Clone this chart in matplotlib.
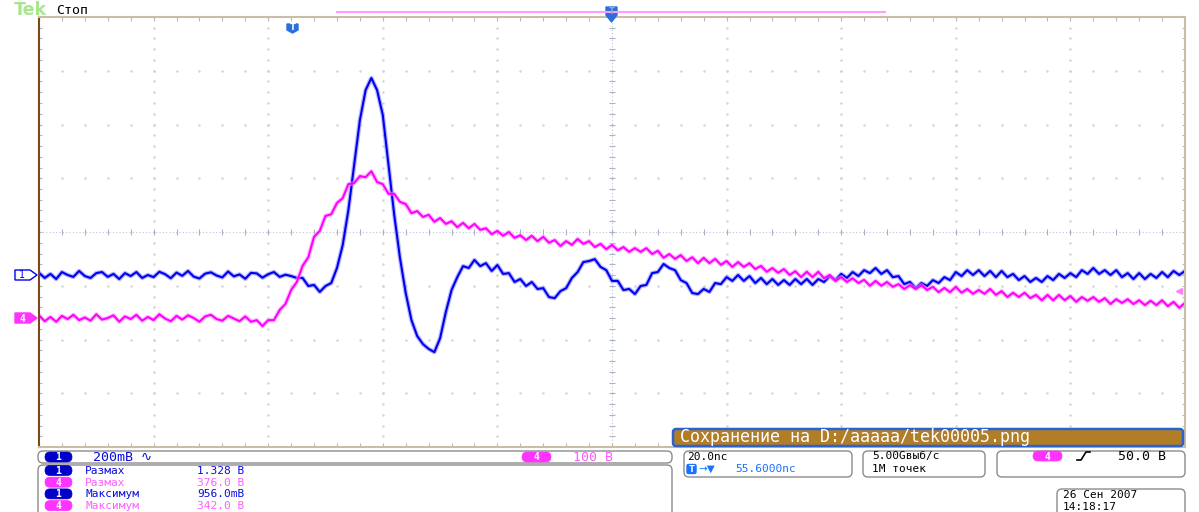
import numpy as np
import matplotlib
matplotlib.use('Agg')
import matplotlib.pyplot as plt
from matplotlib.patches import FancyBboxPatch, Polygon

# ---------------------------------------------------------------------------
# Acquisition: 20 ns/div, one stored point per ns
# ---------------------------------------------------------------------------
TIME_NS = np.arange(0, 201, 1.0)

# channel 1 (current probe), mV relative to the channel marker
CH1_MV = [
    8, -11, 4, -15, 11, 0, -7, 15, -4, -11, 7, 11, -7, 4, -15, 7, -4, 11, -11, 0,
    -8, 12, 3, -12, 9, -3, 15, -6, -13, 5, 10, -2, -9, 13, -5, 2, -14, 8, 6, -10,
    3, 11, -7, 1, -4,
    -11, -11, -41, -37, -63, -41, -30, 26, 111, 242,
    409, 576, 688, 733, 688, 595, 409, 223, 63, -67,
    -168, -227, -257, -275, -287, -235, -138, -56, -8, 33,
    26, 56, 33, 44, 15, 37, 4, 7, -26, -15,
    -41, -26, -52, -49, -82, -86, -60, -49, -11, 11,
    48, 52, 59, 30, 18, -22, -22, -56, -52, -71,
    -41, -37, 7, 11, 41, 26, 18, -19, -30, -67,
    -71, -52, -63, -30, -34, -8, -22, 0, -22, -4,
    -30, -11, -34, -15, -37, -19, -37, -15, -34, -15,
    -37, -15, -26, -4, -19, 4, -11, 11, -4, 18,
    7, 26, 4, 18, -8, -4, -34, -26, -49, -30,
    -41, -19, -30, -8, -19, 11, -4, 18, 0, 18,
    -4, 15, -8, 15, -8, 4, -19, -4, -26, -11,
    -26, -4, -19, 4, -11, 7, -8, 18, 4, 26,
    4, 18, 0, 18, -8, 7, -15, 7, -15, 4,
    -11, 11, -8, 15, 0, 15,
]

# channel 4 (voltage probe), V relative to the channel marker
CH4_V = [
    5, -6, 2, -7, 4, -2, 6, -4, 1, -5, 7, -3, 0, 5, -7, 3, -2, 6, -5, 2,
    -4, 7, -1, -6, 4, -3, 5, 0, -7, 3, 6, -2, -5, 4, -1, -6, 3,
    -7, -4, -15, -4, -4, 15, 26, 52, 67, 97,
    113, 151, 162, 190, 193, 214, 223, 249, 251, 264,
    262, 273, 253, 249, 231, 231, 216, 212, 195, 199,
    188, 192, 179, 186, 175, 180, 169, 177, 167, 175,
    164, 167, 156, 162, 153, 160, 149, 154, 145, 153,
    143, 151, 140, 145, 134, 143, 136, 147, 138, 143,
    132, 138, 128, 136, 126, 132, 123, 130, 123, 130,
    119, 125, 112, 119, 110, 117, 106, 113, 102, 112,
    102, 110, 99, 106, 95, 104, 95, 102, 91, 97,
    86, 93, 84, 91, 80, 87, 76, 86, 76, 86,
    74, 80, 69, 76, 67, 74, 65, 71, 60, 69,
    60, 67, 58, 63, 54, 61, 54, 61, 52, 58,
    48, 56, 48, 58, 47, 54, 45, 52, 45, 54,
    43, 50, 39, 47, 39, 47, 37, 43, 33, 43,
    33, 43, 33, 41, 30, 39, 32, 39, 30, 37,
    26, 35, 28, 35, 26, 33, 24, 32, 24, 33,
    22, 30, 19, 28,
]

CH1_SCALE_MV = 200.0     # mV/div
CH4_SCALE_V = 100.0      # V/div
CH1_POS_DIV = -0.80
CH4_POS_DIV = -1.60
TRIG_LEVEL_V = 50.0

MEAS_CH = ["1", "4", "1", "4"]
MEAS_NAMES = ["Размах", "Размах", "Максимум", "Максимум"]
MEAS_VALUES = ["1.328 В", "376.0 В", "956.0mВ", "342.0 В"]

BLUE = '#0000f0'
MAGENTA = '#ff00ff'
TXT_BLUE = '#0a0ae0'
TXT_PINK = '#ff5cff'
MONO = ['DejaVu Sans Mono', 'DejaVu Sans']
FS = 9.5      # single-line readouts
FS2 = 8       # stacked readouts

W, H = 1199, 512
L, R, T, B = 39, 1185, 17, 447

fig = plt.figure(figsize=(W / 100, H / 100), dpi=100)
fig.patch.set_facecolor('white')

# --- graticule -------------------------------------------------------------
ax = fig.add_axes([L / W, 1 - B / H, (R - L) / W, (B - T) / H])
ax.set_xlim(0, 200)
ax.set_ylim(-4, 4)
ax.set_xticks([])
ax.set_yticks([])
for side in ('top', 'bottom', 'right'):
    ax.spines[side].set_color('#cbbca8')
    ax.spines[side].set_linewidth(1.5)
ax.spines['left'].set_color('#7b4a1c')
ax.spines['left'].set_linewidth(1.5)

grid_c = '#d2d2d2'
for xd in range(1, 10):
    if xd == 5:
        continue
    ax.plot([xd * 20] * 41, np.linspace(-4, 4, 41), ls='none', marker='s',
            ms=0.7, color=grid_c)
for yd in (-3, -2, -1, 1, 2, 3):
    ax.plot(np.linspace(0, 200, 51), [yd] * 51, ls='none', marker='s',
            ms=0.7, color=grid_c)

ax.axvline(100, color='#bcc4da', lw=0.8, ls=(0, (1, 2)))
ax.axhline(0, color='#bcc4da', lw=0.8, ls=(0, (1, 2)))
xs = np.linspace(0, 200, 51)
ys = np.linspace(-4, 4, 41)
ax.vlines(xs, -0.06, 0.06, color='#aab2ca', lw=0.8)
ax.hlines(ys, 99.4, 100.6, color='#aab2ca', lw=0.8)
ax.vlines(xs, 3.93, 4, color='#b8b8b8', lw=0.8)
ax.vlines(xs, -4, -3.93, color='#b8b8b8', lw=0.8)
ax.hlines(ys, 0, 0.6, color='#b8b8b8', lw=0.8)
ax.hlines(ys, 199.4, 200, color='#b8b8b8', lw=0.8)

# --- traces ------------------------------------------------------------------
ch1 = CH1_POS_DIV + np.array(CH1_MV) / CH1_SCALE_MV
ch4 = CH4_POS_DIV + np.array(CH4_V) / CH4_SCALE_V
ax.plot(TIME_NS, ch1, color='#7a7aff', lw=3.2, alpha=0.55)
ax.plot(TIME_NS, ch1, color=BLUE, lw=1.5)
ax.plot(TIME_NS, ch4, color='#ff8cff', lw=3.2, alpha=0.55)
ax.plot(TIME_NS, ch4, color=MAGENTA, lw=1.5)

# trigger level arrow on the right edge
ax.plot([199], [CH4_POS_DIV + TRIG_LEVEL_V / CH4_SCALE_V], marker='<',
        ms=5, color='#ff80ff', clip_on=False)

# --- screen annotations (pixel coordinates) ---------------------------------
ov = fig.add_axes([0, 0, 1, 1], zorder=5)
ov.set_xlim(0, W)
ov.set_ylim(H, 0)
ov.axis('off')


def div_to_px(d):
    return (T + B) / 2 - d * (B - T) / 8


def oval(x, y, label, fc, w=27):
    ov.add_patch(FancyBboxPatch((x, y - 5), w, 10,
                                boxstyle='round,pad=0,rounding_size=5',
                                fc=fc, ec=fc, lw=0.5))
    ov.text(x + w / 2, y + 0.5, label, color='white', fontsize=7,
            fontweight='bold', ha='center', va='center', family=MONO)


def box(x, y, w, h):
    ov.add_patch(FancyBboxPatch((x, y), w, h,
                                boxstyle='round,pad=0,rounding_size=5',
                                fc='white', ec='#8c8c8c', lw=1.0))


ov.text(14, 10, 'Tek', color='#a8e68c', fontsize=12.5, fontweight='bold',
        va='center', family='DejaVu Sans')
ov.text(56, 11, 'Стоп', color='black', fontsize=FS, va='center', family=MONO)
ov.plot([337, 885], [12.3, 12.3], color='#ff9cff', lw=1.5)

ov.add_patch(Polygon([(606, 7), (617, 7), (617, 15), (611.5, 22), (606, 15)],
                     closed=True, fc='#2a6fdc', ec='#2a6fdc'))
ov.text(611.5, 11.5, 'T', color='#9aa4b4', fontsize=6, fontweight='bold',
        ha='center', va='center')
ov.add_patch(Polygon([(287, 24), (298, 24), (298, 30), (292.5, 33), (287, 30)],
                     closed=True, fc='#2a6fdc', ec='#2a6fdc'))
ov.text(292.5, 28, 'T', color='white', fontsize=6, fontweight='bold',
        ha='center', va='center')

# channel ground markers
y1 = div_to_px(CH1_POS_DIV)
y4 = div_to_px(CH4_POS_DIV)
ov.add_patch(Polygon([(15, y1 - 5), (30, y1 - 5), (37, y1), (30, y1 + 5),
                      (15, y1 + 5)], closed=True, fc='white', ec=BLUE, lw=1))
ov.text(22, y1 + 0.5, '1', color=BLUE, fontsize=7, ha='center', va='center',
        family=MONO)
ov.add_patch(Polygon([(15, y4 - 5), (30, y4 - 5), (37, y4), (30, y4 + 5),
                      (15, y4 + 5)], closed=True, fc='#ff33ff', ec='#ff33ff'))
ov.text(22, y4 + 0.5, '4', color='white', fontsize=7, fontweight='bold',
        ha='center', va='center', family=MONO)

# save message bar
ov.add_patch(FancyBboxPatch((673, 429), 510, 17,
                            boxstyle='round,pad=0,rounding_size=3',
                            fc='#b17d27', ec='#2a62d0', lw=1.8))
ov.text(680, 437.5, 'Сохранение на D:/aaaaa/tek00005.png', color='white',
        fontsize=12, va='center', family=MONO)

# readout boxes
box(38, 451, 634, 12)
box(38, 465, 634, 60)
box(684, 451, 168, 26)
box(863, 451, 122, 26)
box(997, 451, 188, 26)
box(1057, 489, 128, 30)

oval(45, 457, '1', '#0000c8')
ov.text(93, 457.5, '200mВ ∿', color=TXT_BLUE, fontsize=FS, va='center',
        family=MONO)
oval(522, 457, '4', '#ff33ff', w=29)
ov.text(573, 457.5, '100 В', color=TXT_PINK, fontsize=FS, va='center',
        family=MONO)

row_y = [470.5, 482.2, 493.9, 505.6]
for ch, name, val, yy in zip(MEAS_CH, MEAS_NAMES, MEAS_VALUES, row_y):
    if ch == '1':
        oval(45, yy, ch, '#0000c8')
        c = TXT_BLUE
    else:
        oval(45, yy, ch, '#ff33ff')
        c = TXT_PINK
    ov.text(85, yy + 0.5, name, color=c, fontsize=FS2, va='center', family=MONO)
    ov.text(197, yy + 0.5, val, color=c, fontsize=FS2, va='center', family=MONO)

ov.text(687, 457, '20.0nc', color='black', fontsize=FS2, va='center',
        family=MONO)
ov.add_patch(FancyBboxPatch((687, 464.5), 9, 9,
                            boxstyle='round,pad=0,rounding_size=1.5',
                            fc='#1a70ff', ec='#1a70ff'))
ov.text(691.5, 469, 'T', color='white', fontsize=6, fontweight='bold',
        ha='center', va='center')
ov.text(698, 469, '→▼', color='#1a70ff', fontsize=7.5, va='center',
        family=['DejaVu Sans'])
ov.text(735, 469.5, '55.6000nc', color='#1a70ff', fontsize=FS2, va='center',
        family=MONO)

ov.text(872, 456.5, '5.00Gвыб/с', color='black', fontsize=FS2, va='center',
        family=MONO)
ov.text(872, 468.5, '1M точек', color='black', fontsize=FS2, va='center',
        family=MONO)

oval(1033, 456, '4', '#ff33ff', w=29)
ov.plot([1077, 1081, 1086, 1090], [460, 460, 452, 452], color='black', lw=1.2)
ov.text(1118, 456.5, '50.0 В', color='black', fontsize=FS, va='center',
        family=MONO)

ov.text(1063, 495, '26 Сен 2007', color='black', fontsize=FS2, va='center',
        family=MONO)
ov.text(1063, 506.5, '14:18:17', color='black', fontsize=FS2, va='center',
        family=MONO)

fig.savefig('out.png', dpi=100)
